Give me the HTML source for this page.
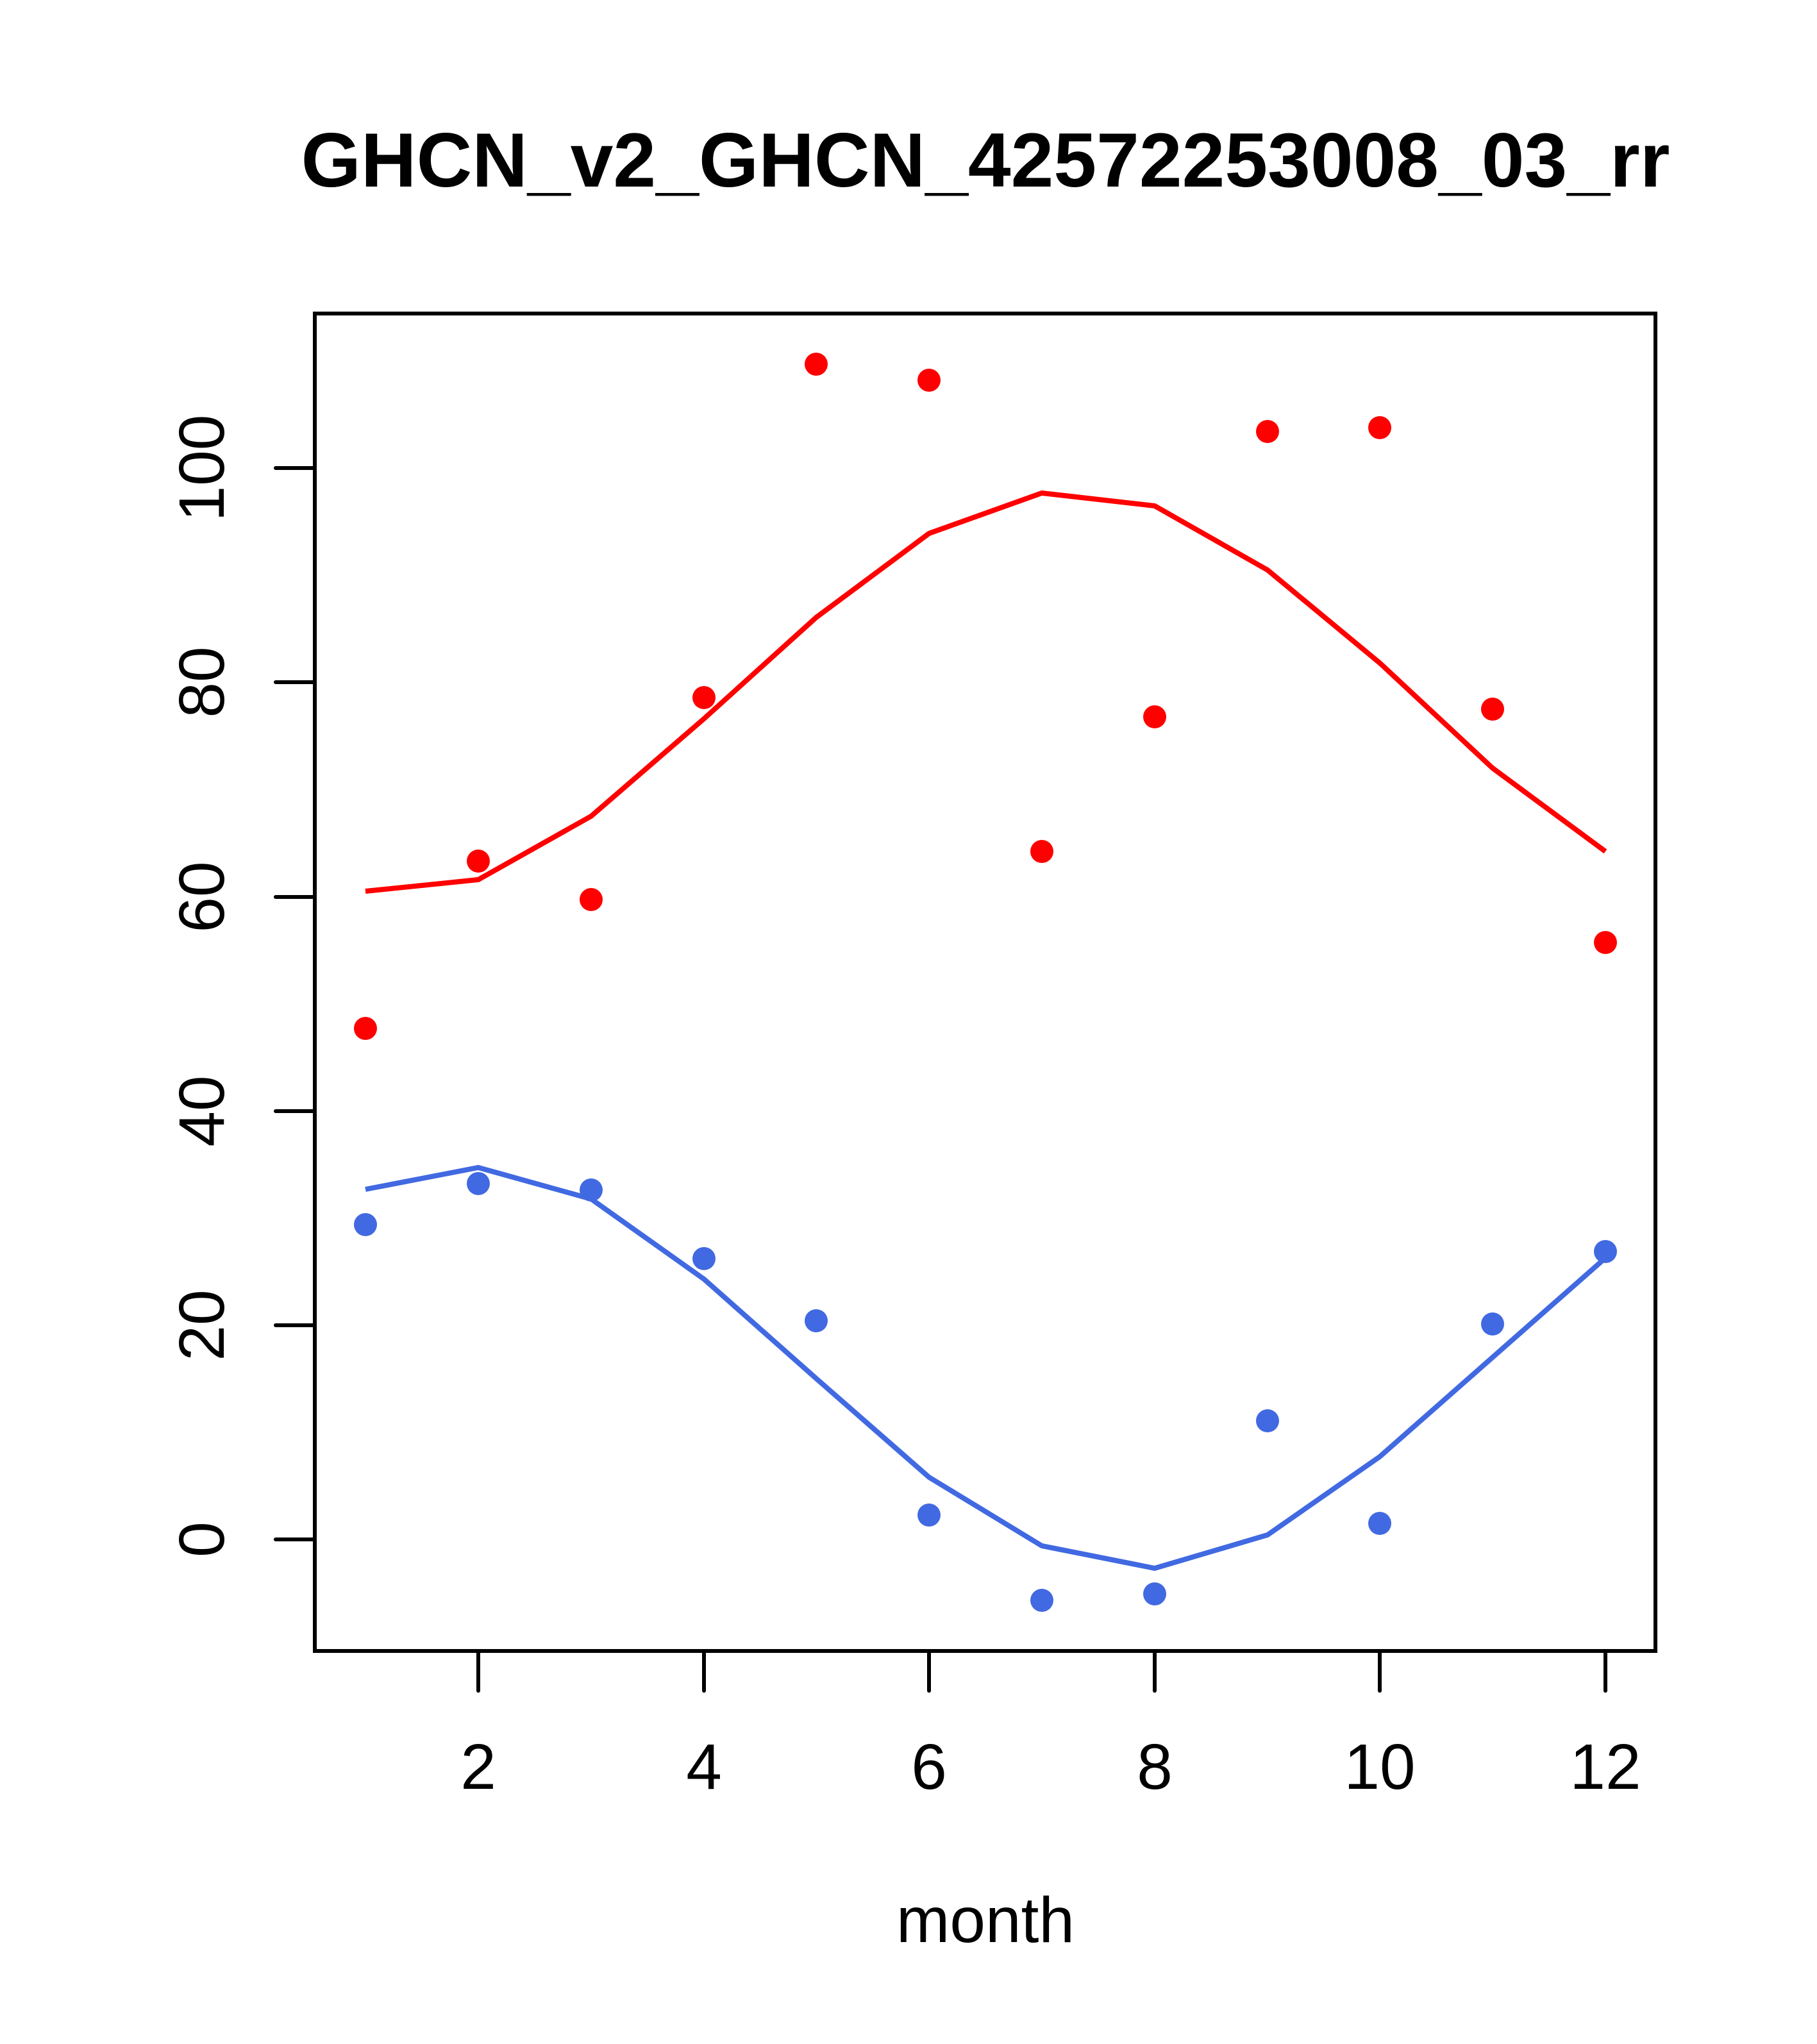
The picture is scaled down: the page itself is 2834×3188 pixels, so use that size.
<!DOCTYPE html>
<html><head><meta charset="utf-8"><style>html,body{margin:0;padding:0;background:#fff}svg{display:block}</style></head>
<body>
<svg width="2834" height="3188" xmlns="http://www.w3.org/2000/svg" font-family="Liberation Sans, Arial, sans-serif">
<rect width="2834" height="3188" fill="#fff"/>
<text x="1537" y="291" font-size="120" font-weight="bold" text-anchor="middle">GHCN_v2_GHCN_42572253008_03_rr</text>
<rect x="491" y="489" width="2091" height="2086" fill="none" stroke="#000" stroke-width="6"/>
<g stroke="#000" stroke-width="6" stroke-linecap="round">
<line x1="746" y1="2575" x2="746" y2="2637"/><line x1="1098" y1="2575" x2="1098" y2="2637"/><line x1="1449" y1="2575" x2="1449" y2="2637"/><line x1="1801" y1="2575" x2="1801" y2="2637"/><line x1="2152" y1="2575" x2="2152" y2="2637"/><line x1="2504" y1="2575" x2="2504" y2="2637"/>
<line x1="491" y1="2401" x2="430" y2="2401"/><line x1="491" y1="2067" x2="430" y2="2067"/><line x1="491" y1="1733" x2="430" y2="1733"/><line x1="491" y1="1399" x2="430" y2="1399"/><line x1="491" y1="1064" x2="430" y2="1064"/><line x1="491" y1="730" x2="430" y2="730"/>
</g>
<g font-size="100" text-anchor="middle">
<text x="746" y="2790">2</text><text x="1098" y="2790">4</text><text x="1449" y="2790">6</text><text x="1801" y="2790">8</text><text x="2152" y="2790">10</text><text x="2504" y="2790">12</text>
<text transform="translate(349,2401) rotate(-90)">0</text>
<text transform="translate(349,2067) rotate(-90)">20</text>
<text transform="translate(349,1733) rotate(-90)">40</text>
<text transform="translate(349,1399) rotate(-90)">60</text>
<text transform="translate(349,1064) rotate(-90)">80</text>
<text transform="translate(349,730) rotate(-90)">100</text>
<text x="1537" y="3029">month</text>
</g>
<polyline fill="none" stroke="#ff0000" stroke-width="8" points="570,1390 746,1372 922,1273 1098,1121 1273,963 1449,832 1625,769 1801,789 1977,889 2152,1034 2328,1198 2504,1328"/>
<polyline fill="none" stroke="#4169E1" stroke-width="8" points="570,1855 746,1821 922,1870 1098,1995 1273,2150 1449,2304 1625,2411 1801,2446 1977,2394 2152,2272 2328,2117 2504,1962"/>
<g fill="#ff0000">
<circle cx="570" cy="1604" r="18"/><circle cx="746" cy="1343" r="18"/><circle cx="922" cy="1403" r="18"/><circle cx="1098" cy="1088" r="18"/><circle cx="1273" cy="568" r="18"/><circle cx="1449" cy="593" r="18"/><circle cx="1625" cy="1328" r="18"/><circle cx="1801" cy="1118" r="18"/><circle cx="1977" cy="673" r="18"/><circle cx="2152" cy="667" r="18"/><circle cx="2328" cy="1106" r="18"/><circle cx="2504" cy="1470" r="18"/>
</g>
<g fill="#4169E1">
<circle cx="570" cy="1910" r="18"/><circle cx="746" cy="1846" r="18"/><circle cx="922" cy="1856" r="18"/><circle cx="1098" cy="1963" r="18"/><circle cx="1273" cy="2060" r="18"/><circle cx="1449" cy="2363" r="18"/><circle cx="1625" cy="2496" r="18"/><circle cx="1801" cy="2486" r="18"/><circle cx="1977" cy="2216" r="18"/><circle cx="2152" cy="2376" r="18"/><circle cx="2328" cy="2065" r="18"/><circle cx="2504" cy="1952" r="18"/>
</g>
</svg>
</body></html>
